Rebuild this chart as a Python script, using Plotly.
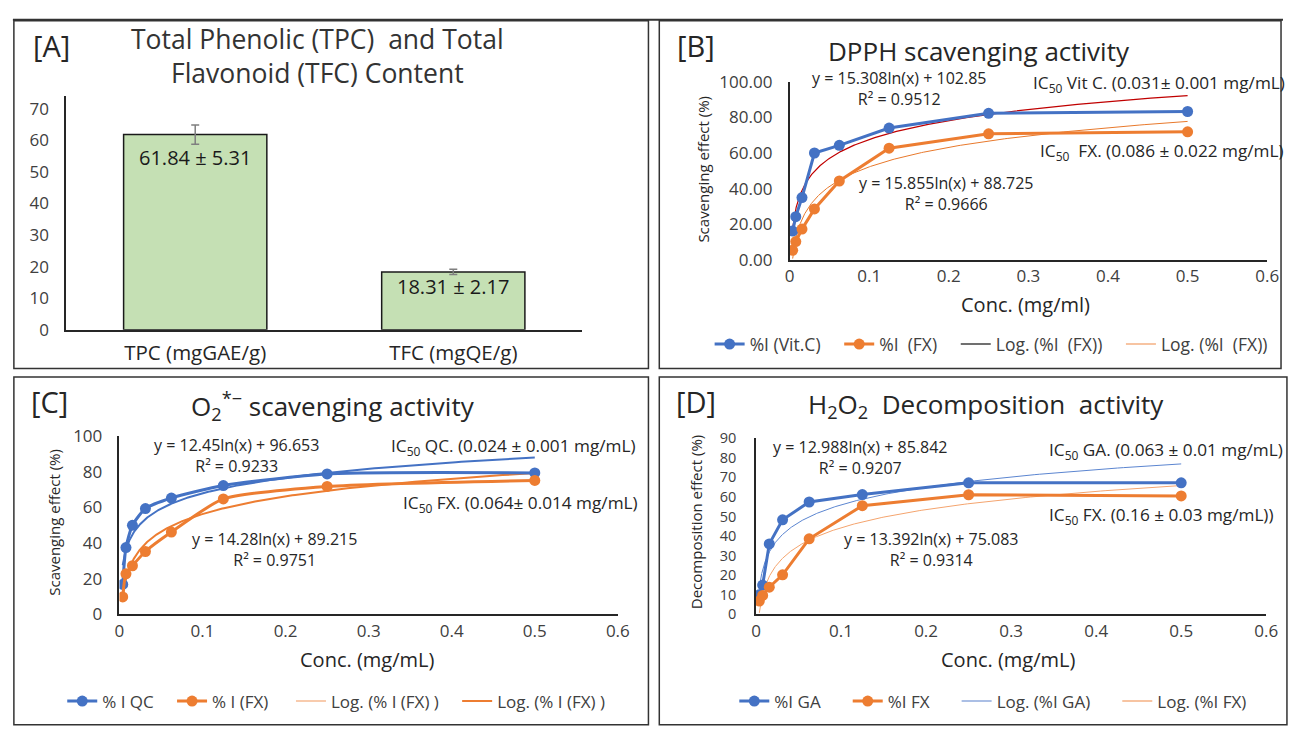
import numpy as np
import plotly.graph_objects as go

W, H = 1295, 730
def px(x): return x / W
def py(y): return 1 - y / H

FONT = "Open Sans"
BLUE = "#4472C4"
ORANGE = "#ED7D31"
NB = "\u00a0"

# ---------------- data ----------------
cats_a = ["TPC (mgGAE/g)", "TFC (mgQE/g)"]
content_a = [61.84, 18.31]
err_a = [3.07, 0.85]
labels_a = ["61.84 ± 5.31", "18.31 ± 2.17"]

conc = [0.0039, 0.0078, 0.0156, 0.03125, 0.0625, 0.125, 0.25, 0.5]

dpph_vitc = [16.2, 24.3, 35.0, 60.0, 64.3, 74.0, 82.3, 83.3]
dpph_fx = [5.4, 10.3, 17.3, 28.6, 44.3, 62.7, 70.8, 71.9]

o2_qc = [16.8, 37.5, 50.0, 59.4, 65.3, 72.3, 78.8, 79.4]
o2_fx = [9.8, 22.8, 27.3, 35.3, 46.2, 64.8, 71.8, 75.2]

h2o2_ga = [10.0, 15.0, 36.0, 48.3, 57.4, 61.2, 67.2, 67.2]
h2o2_fx = [6.8, 9.7, 13.9, 20.2, 38.6, 55.5, 61.1, 60.5]

# logarithmic trendlines y = a*ln(x) + b (as printed on the chart)
trend_b_vitc = (15.308, 102.85)
trend_b_fx = (15.855, 88.725)
trend_c_qc = (12.45, 96.653)
trend_c_fx = (14.28, 89.215)
trend_d_ga = (12.988, 85.842)
trend_d_fx = (13.392, 75.083)

xs = np.geomspace(conc[0], conc[-1], 300)
def trend(c):
    return c[0] * np.log(xs) + c[1]

fig = go.Figure()

# ---------------- Panel A ----------------
fig.add_trace(go.Bar(
    x=cats_a, y=content_a, xaxis="x", yaxis="y",
    marker=dict(color="#C5E0B4", line=dict(color="#1a1a1a", width=1.5)),
    error_y=dict(type="data", array=err_a, color="#7f7f7f", thickness=1.5, width=4),
    showlegend=False,
))

def lname(s, pad=3):
    return s.replace("  ", NB + " ") + NB * pad

def data_trace(x, y, name, color, xa, ya, leg, shape="linear", pad=3):
    return go.Scatter(
        x=x, y=y, name=lname(name, pad), xaxis=xa, yaxis=ya, legend=leg,
        mode="lines+markers",
        line=dict(color=color, width=3, shape=shape, smoothing=0.6),
        marker=dict(color=color, size=11),
    )

def trend_trace(c, color, width, xa, ya):
    return go.Scatter(x=xs, y=trend(c), mode="lines", xaxis=xa, yaxis=ya,
                      line=dict(color=color, width=width), showlegend=False,
                      hoverinfo="skip")

def legend_line(name, color, width, leg, pad=3):
    return go.Scatter(x=[None], y=[None], mode="lines", name=lname(name, pad), legend=leg,
                      line=dict(color=color, width=width), xaxis="x2", yaxis="y2")

# ---------------- Panel B ----------------
fig.add_trace(trend_trace(trend_b_vitc, "#C00000", 1.2, "x2", "y2"))
fig.add_trace(trend_trace(trend_b_fx, "#E8792C", 1.0, "x2", "y2"))
fig.add_trace(data_trace(conc, dpph_vitc, "%I (Vit.C)", BLUE, "x2", "y2", "legend2"))
fig.add_trace(data_trace(conc, dpph_fx, "%I  (FX)", ORANGE, "x2", "y2", "legend2"))
fig.add_trace(legend_line("Log. (%I  (FX))", "#404040", 1.5, "legend2"))
fig.add_trace(legend_line("Log. (%I  (FX))", "#F4B183", 1.5, "legend2"))

# ---------------- Panel C ----------------
fig.add_trace(trend_trace(trend_c_qc, BLUE, 2, "x3", "y3"))
fig.add_trace(trend_trace(trend_c_fx, ORANGE, 2, "x3", "y3"))
fig.add_trace(data_trace(conc, o2_qc, "% I QC", BLUE, "x3", "y3", "legend3", "spline"))
fig.add_trace(data_trace(conc, o2_fx, "% I (FX)", ORANGE, "x3", "y3", "legend3", "spline", pad=4))
fig.add_trace(legend_line("Log. (% I (FX) )", "#F8CBAD", 2, "legend3"))
fig.add_trace(legend_line("Log. (% I (FX) )", ORANGE, 2, "legend3"))

# ---------------- Panel D ----------------
fig.add_trace(trend_trace(trend_d_ga, "#5B85D0", 1.0, "x4", "y4"))
fig.add_trace(trend_trace(trend_d_fx, "#F4A46E", 1.0, "x4", "y4"))
fig.add_trace(data_trace(conc, h2o2_ga, "%I GA", BLUE, "x4", "y4", "legend4", pad=5))
fig.add_trace(data_trace(conc, h2o2_fx, "%I FX", ORANGE, "x4", "y4", "legend4", pad=5))
fig.add_trace(legend_line("Log. (%I GA)", "#8FAADC", 1.5, "legend4", pad=5))
fig.add_trace(legend_line("Log. (%I FX)", "#F4B183", 1.5, "legend4", pad=5))

# ---------------- axes ----------------
TICKF = dict(family=FONT, size=17, color="#404040")
AX = dict(showgrid=False, zeroline=False, showline=True, linecolor="#262626",
          linewidth=1.5, ticks="", tickfont=TICKF, fixedrange=True)

def xaxis_lin(dom, anchor):
    return dict(AX, domain=dom, anchor=anchor, range=[0, 0.6],
                tickvals=[0, 0.1, 0.2, 0.3, 0.4, 0.5, 0.6], ticklabelstandoff=0)

layout = dict(
    width=W, height=H, margin=dict(l=0, r=0, t=0, b=0),
    paper_bgcolor="white", plot_bgcolor="white",
    font=dict(family=FONT, color="#262626"),
    bargap=0.445,
    xaxis=dict(AX, domain=[px(62), px(585)], anchor="y",
               tickfont=dict(family=FONT, size=20.5, color="#262626"), ticklabelstandoff=4),
    yaxis=dict(AX, domain=[py(328), py(87)], anchor="x", range=[0, 74],
               tickvals=[0, 10, 20, 30, 40, 50, 60, 70], ticklabelstandoff=12),
    xaxis2=xaxis_lin([px(795), px(1279)], "y2"),
    yaxis2=dict(AX, domain=[py(256), py(72)], anchor="x2", range=[0, 100],
                tickvals=[0, 20, 40, 60, 80, 100], tickformat=".2f", ticklabelstandoff=12),
    xaxis3=xaxis_lin([px(116), px(621)], "y3"),
    yaxis3=dict(AX, domain=[py(622), py(438)], anchor="x3", range=[0, 100],
                tickvals=[0, 20, 40, 60, 80, 100], ticklabelstandoff=12),
    xaxis4=xaxis_lin([px(761), px(1278)], "y4"),
    yaxis4=dict(AX, domain=[py(622), py(440)], anchor="x4", range=[0, 90],
                tickvals=list(range(0, 91, 10)), ticklabelstandoff=15,
                tickfont=dict(family=FONT, size=14.5, color="#404040")),
)

def leg(x, y, size):
    return dict(orientation="h", x=px(x), y=py(y), xanchor="left", yanchor="middle",
                font=dict(family=FONT, size=size, color="#404040"),
                bgcolor="rgba(0,0,0,0)", tracegroupgap=0)
layout["legend2"] = leg(714, 343, 17.5)
layout["legend3"] = leg(58, 712, 17)
layout["legend4"] = leg(739, 712, 17)

fig.update_layout(**layout)

# ---------------- annotations ----------------
ann = []
def txt(text, x, y, size, xanchor="center", color="#262626", angle=0):
    ann.append(dict(text=text, x=px(x), y=py(y), xref="paper", yref="paper",
                    xanchor=xanchor, yanchor="middle", showarrow=False,
                    textangle=angle, font=dict(family=FONT, size=size, color=color)))

EQ = 16
IC = 17.2
# Panel A
txt("[A]", 47, 35, 29)
txt("Total Phenolic (TPC)  and Total<br>Flavonoid (TFC) Content", 317, 45, 26.5, color="#333333")
for cat, val, lab, shift in zip(cats_a, content_a, labels_a, [-23, -15]):
    ann.append(dict(text=lab, x=cat, y=val, xref="x", yref="y", showarrow=False,
                    yshift=shift, font=dict(family=FONT, size=20, color="#1a1a1a")))

# Panel B
txt("[B]", 700, 35, 29)
txt("DPPH scavenging activity", 987, 40, 26)
txt("Conc. (mg/ml)", 1034, 302, 20)
txt("Scavenging effect (%)", 707, 162, 15, angle=-90)
txt("y = 15.308ln(x) + 102.85<br>R² = 0.9512", 906, 79, EQ)
txt("y = 15.855ln(x) + 88.725<br>R² = 0.9666", 954, 187, EQ)
txt("IC<sub>50</sub> Vit C. (0.031± 0.001 mg/mL)", 1040, 74, IC, xanchor="left")
txt("IC<sub>50</sub>  FX. (0.086 ± 0.022 mg/mL)", 1047, 145, IC, xanchor="left")

# Panel C
txt("[C]", 45, 402, 29)
txt("O<sub>2</sub><sup>*−</sup> scavenging activity", 332, 407, 26)
txt("Conc. (mg/mL)", 367, 669, 20)
txt("Scavenging effect (%)", 50, 527, 15, angle=-90)
txt("y = 12.45ln(x) + 96.653<br>R² = 0.9233", 235, 458, EQ)
txt("y = 14.28ln(x) + 89.215<br>R² = 0.9751", 273, 555, EQ)
txt("IC<sub>50</sub> QC. (0.024 ± 0.001 mg/mL)", 389, 449, IC, xanchor="left")
txt("IC<sub>50</sub> FX. (0.064± 0.014 mg/mL)", 401, 508, IC, xanchor="left")

# Panel D
txt("[D]", 700, 402, 29)
txt("H<sub>2</sub>O<sub>2</sub>  Decomposition  activity", 994, 406, 26)
txt("Conc. (mg/mL)", 1016, 669, 20)
txt("Decomposition effect (%)", 701, 527, 15, angle=-90)
txt("y = 12.988ln(x) + 85.842<br>R² = 0.9207", 867, 460, EQ)
txt("y = 13.392ln(x) + 75.083<br>R² = 0.9314", 939, 555, EQ)
txt("IC<sub>50</sub> GA. (0.063 ± 0.01 mg/mL)", 1056, 453, IC, xanchor="left")
txt("IC<sub>50</sub> FX. (0.16 ± 0.03 mg/mL))", 1056, 520, IC, xanchor="left")

fig.update_layout(annotations=ann)

# ---------------- panel borders ----------------
shapes = []
for x0, y0, x1, y1 in [(9, 9, 652, 368), (663, 9, 1293, 368),
                       (9, 377, 652, 736), (663, 377, 1299, 736)]:
    shapes.append(dict(type="rect", xref="paper", yref="paper",
                       x0=px(x0), x1=px(x1), y0=py(y1), y1=py(y0),
                       line=dict(color="#333333", width=1.5)))
shapes.append(dict(type="line", xref="paper", yref="paper", x0=px(8), x1=1,
                   y0=py(8), y1=py(8), line=dict(color="#333333", width=2)))
fig.update_layout(shapes=shapes)

fig.write_html("out.html", config={"displayModeBar": False},
               post_script="document.body.style.margin='0';")
